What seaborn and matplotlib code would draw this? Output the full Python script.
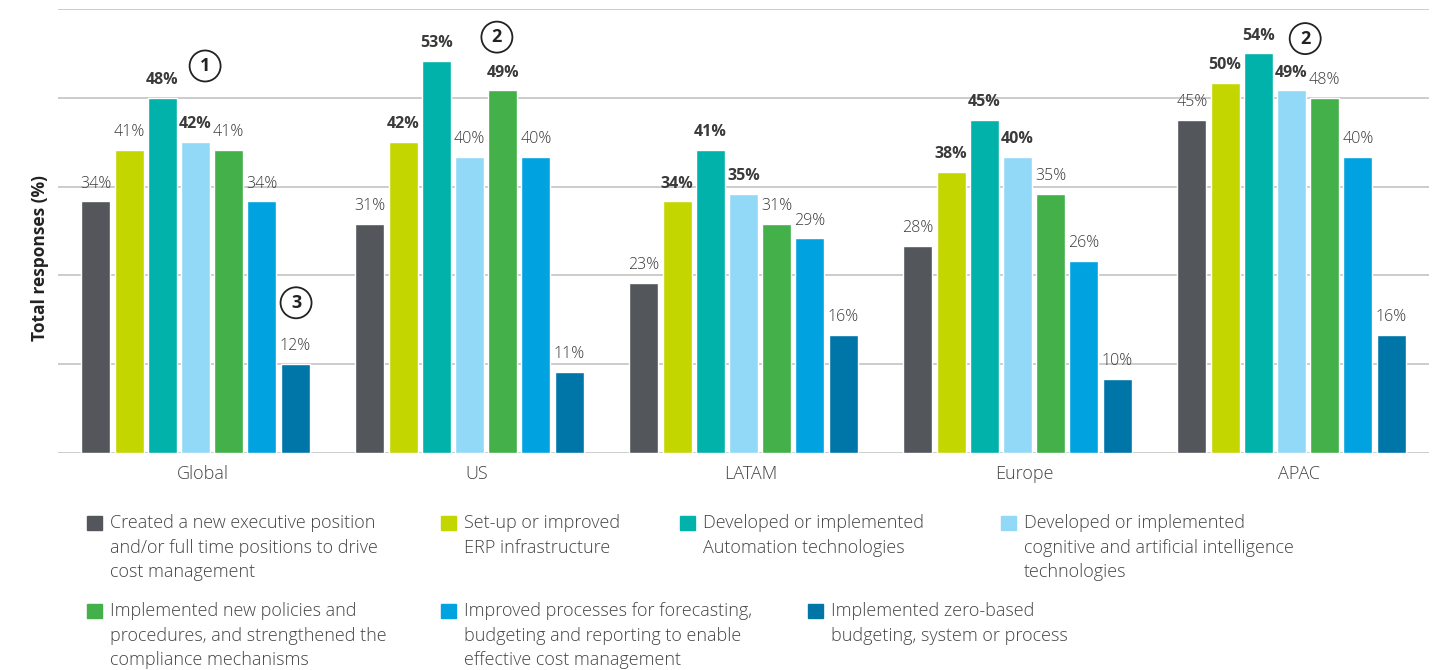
"""
Cost management actions by region — grouped bar chart.
Saves out.png (1439x670).
"""

import numpy as np
import pandas as pd
import matplotlib.pyplot as plt
import seaborn as sns
from matplotlib.patches import Rectangle
from matplotlib.transforms import ScaledTranslation

regions = ["Global", "US", "LATAM", "Europe", "APAC"]

series = [
    "Created a new executive position\nand/or full time positions to drive\ncost management",
    "Set-up or improved\nERP infrastructure",
    "Developed or implemented\nAutomation technologies",
    "Developed or implemented\ncognitive and artificial intelligence\ntechnologies",
    "Implemented new policies and\nprocedures, and strengthened the\ncompliance mechanisms",
    "Improved processes for forecasting,\nbudgeting and reporting to enable\neffective cost management",
    "Implemented zero-based\nbudgeting, system or process",
]

exec_positions = [34, 31, 23, 28, 45]
erp = [41, 42, 34, 38, 50]
automation = [48, 53, 41, 45, 54]
cognitive = [42, 40, 35, 40, 49]
policies = [41, 49, 31, 35, 48]
forecasting = [34, 40, 29, 26, 40]
zero_based = [12, 11, 16, 10, 16]

# which value labels are printed in bold (top three per region)
bold_exec = [False, False, False, False, False]
bold_erp = [False, True, True, True, True]
bold_automation = [True, True, True, True, True]
bold_cognitive = [True, False, True, True, True]
bold_policies = [False, True, False, False, False]
bold_forecasting = [False, False, False, False, False]
bold_zero_based = [False, False, False, False, False]

colors = ["#53565A", "#C4D600", "#00B2A9", "#92D9F7", "#43B049", "#00A3E0", "#0076A8"]

# numbered call-outs (text, x in category units, y in %)
callouts = [("1", 0.035, 52.3), ("2", 1.10, 56.2), ("2", 4.05, 56.0), ("3", 0.367, 20.3)]

sns.set_style("white")
plt.rcParams["font.family"] = ["Open Sans", "DejaVu Sans"]


def main():
    values = [exec_positions, erp, automation, cognitive, policies, forecasting, zero_based]
    bolds = [bold_exec, bold_erp, bold_automation, bold_cognitive,
             bold_policies, bold_forecasting, bold_zero_based]

    df = pd.DataFrame({
        "region": np.tile(regions, len(series)),
        "series": np.repeat(series, len(regions)),
        "value": np.concatenate(values),
    })

    fig = plt.figure(figsize=(14.39, 6.70), dpi=100)
    ax = fig.add_axes([58.5 / 1439, 217 / 670, 1370 / 1439, 444 / 670])

    sns.barplot(data=df, x="region", y="value", hue="series",
                order=regions, hue_order=series, palette=colors,
                width=0.848, gap=0.126, saturation=1, errorbar=None,
                legend=False, ax=ax)

    for cont, vals, bl in zip(ax.containers, values, bolds):
        texts = ax.bar_label(cont, labels=[f"{v}%" for v in vals],
                             padding=7, fontsize=11.5, color="#3a3a3a",
                             fontweight="light")
        for t, b in zip(texts, bl):
            if b:
                t.set_fontweight("bold")

    for txt, x, y in callouts:
        ax.text(x, y, txt, ha="center", va="center", fontsize=13,
                fontweight="bold", color="#222222",
                bbox=dict(boxstyle="circle,pad=0.36", fc="white",
                          ec="#222222", lw=1.3))

    ax.set_xlim(-0.5, 4.5)
    ax.set_ylim(0, 60)
    ax.set_yticks(range(0, 61, 12))
    ax.set_yticklabels([])
    ax.yaxis.grid(True, color="#cccccc", lw=1.4)
    ax.set_axisbelow(True)
    for s in ax.spines.values():
        s.set_visible(False)
    ax.tick_params(left=False, bottom=False, pad=5)
    ax.set_xlabel("")
    ax.set_xticks(range(len(regions)))
    ax.set_xticklabels(regions, fontsize=13, color="#444444", fontweight="light")
    shift = ScaledTranslation(0.07, 0, fig.dpi_scale_trans)
    for lab in ax.get_xticklabels():
        lab.set_transform(lab.get_transform() + shift)

    ax.set_ylabel("Total responses (%)", fontsize=12.5, fontweight="bold", color="#222222")
    ax.yaxis.set_label_coords(-0.007, 0.44)

    # legend laid out by hand: square + wrapped label
    legend_pos = [(87, 516), (441, 516), (680, 516), (1001, 516),
                  (87, 604), (441, 604), (808, 604)]
    W, H = 1439, 670
    for (px, py), lab, col in zip(legend_pos, series, colors):
        fig.add_artist(Rectangle((px / W, 1 - (py + 14) / H), 15 / W, 14 / H,
                                 transform=fig.transFigure, color=col))
        fig.text((px + 23) / W, 1 - (py - 2) / H, lab, ha="left", va="top",
                 fontsize=13, color="#444444", linespacing=1.47,
                 fontweight="light")

    fig.savefig("out.png", dpi=100)
    plt.close(fig)


if __name__ == "__main__":
    main()
